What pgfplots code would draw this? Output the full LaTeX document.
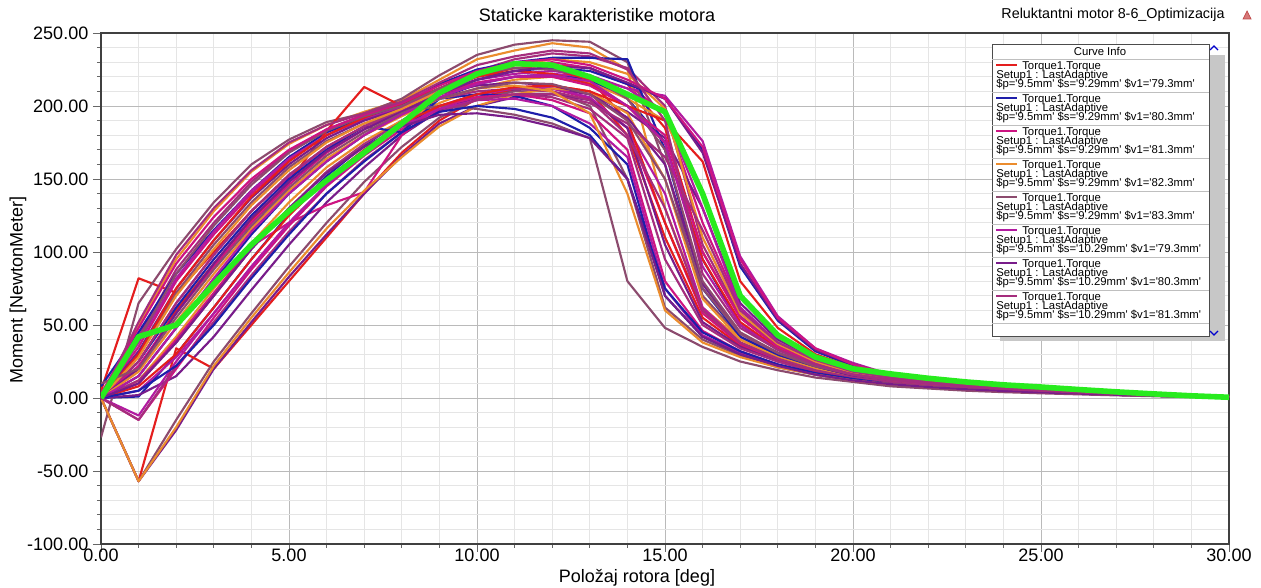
\documentclass[border=0pt]{standalone}
\usepackage{pgfplots}
\pgfplotsset{compat=1.18}
\usepackage{fontspec}
\setmainfont{Liberation Sans}

\definecolor{cR}{RGB}{228,30,30}
\definecolor{cB}{RGB}{30,30,170}
\definecolor{cM}{RGB}{205,20,130}
\definecolor{cO}{RGB}{235,140,45}
\definecolor{cV}{RGB}{140,75,110}
\definecolor{cP}{RGB}{178,26,160}
\definecolor{cQ}{RGB}{120,28,138}
\definecolor{cL}{RGB}{165,45,125}
\definecolor{cG}{RGB}{40,235,30}

\newcommand{\lgfont}{\fontsize{8.5}{9}\selectfont}
\newcommand{\sq}{\textquotesingle}

\begin{document}
\begin{tikzpicture}
\begin{axis}[
  scale only axis, width=846pt, height=383.25pt,
  xmin=0, xmax=30, ymin=-100, ymax=250,
  xtick={0,5,...,30},
  xticklabels={0.00,5.00,10.00,15.00,20.00,25.00,30.00},
  ytick={-100,-50,...,250},
  yticklabels={-100.00,-50.00,0.00,50.00,100.00,150.00,200.00,250.00},
  minor x tick num=4, minor y tick num=4,
  grid=both,
  major grid style={draw=black!27, line width=0.6pt},
  minor grid style={draw=black!10, line width=0.6pt},
  tick pos=left, tick align=outside,
  major tick length=6pt, minor tick length=3pt,
  tick style={draw=black!60, line width=0.6pt},
  axis line style={draw=black!75, line width=1pt},
  ticklabel style={font=\fontsize{13.5}{15}\selectfont},
  xticklabel style={yshift=6pt},
  every axis plot/.append style={line width=1.6pt, line join=round},
]
\coordinate (tl) at (rel axis cs:0,1);
% round 1
\addplot[cR] coordinates {(0,5)(1,82)(2,72)(3,100)(4,128)(5,152)(6,172)(7,186)(8,198)(9,210)(10,220)(11,226)(12,228)(13,226)(14,215)(15,185)(16,100)(17,55)(18,35)(19,24)(20,17)(21,12.5)(22,9.8)(23,7.8)(24,6.2)(25,4.9)(26,3.8)(27,2.8)(28,2)(29,1.3)(30,0.7)};
\addplot[cB] coordinates {(0,0)(1,1)(2,30)(3,62)(4,95)(5,126)(6,152)(7,173)(8,190)(9,205)(10,215)(11,220)(12,222)(13,218)(14,205)(15,175)(16,95)(17,50)(18,33)(19,23)(20,16)(21,12.5)(22,9.8)(23,7.8)(24,6.2)(25,4.9)(26,3.8)(27,2.8)(28,2)(29,1.3)(30,0.7)};
\addplot[cM] coordinates {(0,0)(1,35)(2,80)(3,112)(4,140)(5,163)(6,180)(7,192)(8,200)(9,212)(10,222)(11,228)(12,230)(13,226)(14,215)(15,195)(16,120)(17,62)(18,38)(19,26)(20,18)(21,14)(22,11)(23,8.8)(24,7)(25,5.5)(26,4.3)(27,3.2)(28,2.3)(29,1.5)(30,0.8)};
\addplot[cO] coordinates {(0,0)(1,50)(2,95)(3,128)(4,155)(5,174)(6,187)(7,196)(8,204)(9,218)(10,232)(11,238)(12,243)(13,240)(14,225)(15,130)(16,62)(17,40)(18,29)(19,21)(20,15)(21,11)(22,8.5)(23,6.8)(24,5.4)(25,4.3)(26,3.3)(27,2.5)(28,1.8)(29,1.1)(30,0.6)};
\addplot[cV] coordinates {(0,-27)(1,65)(2,102)(3,134)(4,160)(5,177)(6,189)(7,195)(8,205)(9,221)(10,235)(11,242)(12,245)(13,244)(14,230)(15,160)(16,70)(17,42)(18,30)(19,21)(20,15)(21,11)(22,8.5)(23,6.8)(24,5.4)(25,4.3)(26,3.3)(27,2.5)(28,1.8)(29,1.1)(30,0.6)};
\addplot[cP] coordinates {(0,0)(1,25)(2,65)(3,98)(4,128)(5,152)(6,172)(7,186)(8,197)(9,208)(10,216)(11,220)(12,222)(13,220)(14,212)(15,207)(16,176)(17,97)(18,56)(19,34)(20,24)(21,16)(22,12.5)(23,10)(24,8)(25,6.3)(26,4.9)(27,3.6)(28,2.6)(29,1.7)(30,0.9)};
\addplot[cQ] coordinates {(0,0)(1,2)(2,15)(3,42)(4,74)(5,105)(6,134)(7,158)(8,180)(9,197)(10,206)(11,211)(12,212)(13,208)(14,196)(15,178)(16,130)(17,65)(18,40)(19,27)(20,18)(21,14)(22,11)(23,8.8)(24,7)(25,5.5)(26,4.3)(27,3.2)(28,2.3)(29,1.5)(30,0.8)};
\addplot[cL] coordinates {(0,0)(1,42)(2,88)(3,120)(4,148)(5,169)(6,184)(7,194)(8,201)(9,212)(10,224)(11,232)(12,236)(13,234)(14,226)(15,200)(16,105)(17,56)(18,36)(19,25)(20,17)(21,12.5)(22,9.8)(23,7.8)(24,6.2)(25,4.9)(26,3.8)(27,2.8)(28,2)(29,1.3)(30,0.7)};
% round 2
\addplot[cR] coordinates {(0,0)(1,-57)(2,34)(3,20)(4,50)(5,80)(6,110)(7,140)(8,168)(9,190)(10,205)(11,212)(12,214)(13,210)(14,180)(15,110)(16,55)(17,36)(18,26)(19,19)(20,14)(21,11)(22,8.5)(23,6.8)(24,5.4)(25,4.3)(26,3.3)(27,2.5)(28,1.8)(29,1.1)(30,0.6)};
\addplot[cB] coordinates {(0,8)(1,45)(2,85)(3,115)(4,142)(5,165)(6,182)(7,192)(8,200)(9,215)(10,225)(11,230)(12,233)(13,233)(14,232)(15,170)(16,75)(17,42)(18,29)(19,20)(20,15)(21,11)(22,8.5)(23,6.8)(24,5.4)(25,4.3)(26,3.3)(27,2.5)(28,1.8)(29,1.1)(30,0.6)};
\addplot[cM] coordinates {(0,0)(1,-15)(2,20)(3,55)(4,88)(5,118)(6,145)(7,166)(8,184)(9,198)(10,208)(11,212)(12,212)(13,205)(14,185)(15,120)(16,58)(17,37)(18,26)(19,19)(20,14)(21,11)(22,8.5)(23,6.8)(24,5.4)(25,4.3)(26,3.3)(27,2.5)(28,1.8)(29,1.1)(30,0.6)};
\addplot[cO] coordinates {(0,0)(1,12)(2,42)(3,75)(4,106)(5,134)(6,158)(7,176)(8,190)(9,202)(10,212)(11,218)(12,220)(13,216)(14,205)(15,190)(16,140)(17,70)(18,42)(19,28)(20,19)(21,14)(22,11)(23,8.8)(24,7)(25,5.5)(26,4.3)(27,3.2)(28,2.3)(29,1.5)(30,0.8)};
\addplot[cV] coordinates {(0,0)(1,-57)(2,-15)(3,25)(4,58)(5,90)(6,120)(7,148)(8,172)(9,192)(10,205)(11,210)(12,210)(13,200)(14,150)(15,62)(16,40)(17,29)(18,21)(19,16)(20,12)(21,9.5)(22,7.5)(23,6)(24,4.8)(25,3.8)(26,3)(27,2.2)(28,1.5)(29,1)(30,0.5)};
\addplot[cP] coordinates {(0,0)(1,5)(2,28)(3,58)(4,90)(5,120)(6,146)(7,168)(8,186)(9,200)(10,208)(11,212)(12,212)(13,206)(14,185)(15,140)(16,62)(17,38)(18,27)(19,19)(20,14)(21,11)(22,8.5)(23,6.8)(24,5.4)(25,4.3)(26,3.3)(27,2.5)(28,1.8)(29,1.1)(30,0.6)};
\addplot[cQ] coordinates {(0,0)(1,-57)(2,-22)(3,20)(4,52)(5,83)(6,112)(7,140)(8,166)(9,188)(10,200)(11,206)(12,208)(13,204)(14,185)(15,105)(16,52)(17,35)(18,25)(19,18)(20,13)(21,9.5)(22,7.5)(23,6)(24,4.8)(25,3.8)(26,3)(27,2.2)(28,1.5)(29,1)(30,0.5)};
\addplot[cL] coordinates {(0,0)(1,12)(2,38)(3,70)(4,102)(5,130)(6,155)(7,174)(8,189)(9,200)(10,206)(11,208)(12,206)(13,198)(14,178)(15,95)(16,50)(17,34)(18,25)(19,18)(20,13)(21,9.5)(22,7.5)(23,6)(24,4.8)(25,3.8)(26,3)(27,2.2)(28,1.5)(29,1)(30,0.5)};
% round 3
\addplot[cR] coordinates {(0,0)(1,20)(2,60)(3,92)(4,122)(5,148)(6,183)(7,213)(8,200)(9,212)(10,222)(11,226)(12,225)(13,218)(14,190)(15,120)(16,60)(17,38)(18,27)(19,19)(20,14)(21,11)(22,8.5)(23,6.8)(24,5.4)(25,4.3)(26,3.3)(27,2.5)(28,1.8)(29,1.1)(30,0.6)};
\addplot[cB] coordinates {(0,0)(1,25)(2,62)(3,95)(4,125)(5,150)(6,170)(7,186)(8,182)(9,205)(10,208)(11,207)(12,200)(13,185)(14,160)(15,70)(16,42)(17,30)(18,22)(19,16)(20,12)(21,9.5)(22,7.5)(23,6)(24,4.8)(25,3.8)(26,3)(27,2.2)(28,1.5)(29,1)(30,0.5)};
\addplot[cM] coordinates {(0,0)(1,10)(2,40)(3,72)(4,104)(5,120)(6,132)(7,141)(8,180)(9,200)(10,206)(11,208)(12,204)(13,195)(14,170)(15,80)(16,46)(17,32)(18,23)(19,17)(20,12)(21,9.5)(22,7.5)(23,6)(24,4.8)(25,3.8)(26,3)(27,2.2)(28,1.5)(29,1)(30,0.5)};
\addplot[cO] coordinates {(0,0)(1,-57)(2,-20)(3,22)(4,55)(5,86)(6,116)(7,142)(8,165)(9,186)(10,200)(11,208)(12,212)(13,210)(14,195)(15,150)(16,68)(17,40)(18,28)(19,20)(20,14)(21,11)(22,8.5)(23,6.8)(24,5.4)(25,4.3)(26,3.3)(27,2.5)(28,1.8)(29,1.1)(30,0.6)};
\addplot[cV] coordinates {(0,0)(1,30)(2,72)(3,105)(4,134)(5,158)(6,176)(7,188)(8,196)(9,200)(10,198)(11,194)(12,188)(13,178)(14,80)(15,48)(16,35)(17,25)(18,19)(19,14)(20,11)(21,8)(22,6.5)(23,5)(24,4)(25,3.2)(26,2.5)(27,1.8)(28,1.2)(29,0.8)(30,0.4)};
\addplot[cP] coordinates {(0,0)(1,38)(2,82)(3,114)(4,142)(5,164)(6,180)(7,191)(8,199)(9,210)(10,218)(11,222)(12,224)(13,221)(14,212)(15,195)(16,130)(17,62)(18,38)(19,26)(20,18)(21,14)(22,11)(23,8.8)(24,7)(25,5.5)(26,4.3)(27,3.2)(28,2.3)(29,1.5)(30,0.8)};
\addplot[cQ] coordinates {(0,0)(1,32)(2,75)(3,108)(4,137)(5,160)(6,178)(7,190)(8,198)(9,208)(10,214)(11,216)(12,214)(13,208)(14,192)(15,160)(16,78)(17,44)(18,31)(19,22)(20,15)(21,11)(22,8.5)(23,6.8)(24,5.4)(25,4.3)(26,3.3)(27,2.5)(28,1.8)(29,1.1)(30,0.6)};
\addplot[cL] coordinates {(0,0)(1,25)(2,65)(3,98)(4,128)(5,153)(6,172)(7,186)(8,196)(9,205)(10,210)(11,212)(12,210)(13,204)(14,180)(15,130)(16,60)(17,38)(18,27)(19,19)(20,14)(21,11)(22,8.5)(23,6.8)(24,5.4)(25,4.3)(26,3.3)(27,2.5)(28,1.8)(29,1.1)(30,0.6)};
% round 4
\addplot[cR] coordinates {(0,0)(1,30)(2,75)(3,108)(4,138)(5,162)(6,180)(7,192)(8,202)(9,212)(10,220)(11,224)(12,222)(13,215)(14,200)(15,175)(16,95)(17,52)(18,34)(19,24)(20,17)(21,12.5)(22,9.8)(23,7.8)(24,6.2)(25,4.9)(26,3.8)(27,2.8)(28,2)(29,1.3)(30,0.7)};
\addplot[cB] coordinates {(0,0)(1,15)(2,48)(3,80)(4,112)(5,140)(6,162)(7,180)(8,195)(9,208)(10,218)(11,224)(12,226)(13,224)(14,215)(15,205)(16,170)(17,90)(18,53)(19,32)(20,22)(21,16)(22,12.5)(23,10)(24,8)(25,6.3)(26,4.9)(27,3.6)(28,2.6)(29,1.7)(30,0.9)};
\addplot[cM] coordinates {(0,0)(1,22)(2,58)(3,90)(4,120)(5,146)(6,168)(7,184)(8,196)(9,208)(10,216)(11,220)(12,220)(13,214)(14,200)(15,180)(16,100)(17,55)(18,35)(19,24)(20,17)(21,12.5)(22,9.8)(23,7.8)(24,6.2)(25,4.9)(26,3.8)(27,2.8)(28,2)(29,1.3)(30,0.7)};
\addplot[cO] coordinates {(0,0)(1,28)(2,70)(3,102)(4,132)(5,156)(6,175)(7,188)(8,198)(9,210)(10,222)(11,228)(12,232)(13,230)(14,222)(15,198)(16,110)(17,58)(18,37)(19,25)(20,17)(21,12.5)(22,9.8)(23,7.8)(24,6.2)(25,4.9)(26,3.8)(27,2.8)(28,2)(29,1.3)(30,0.7)};
\addplot[cV] coordinates {(0,0)(1,40)(2,85)(3,118)(4,146)(5,168)(6,183)(7,193)(8,200)(9,212)(10,222)(11,226)(12,225)(13,220)(14,205)(15,170)(16,80)(17,45)(18,31)(19,22)(20,16)(21,12.5)(22,9.8)(23,7.8)(24,6.2)(25,4.9)(26,3.8)(27,2.8)(28,2)(29,1.3)(30,0.7)};
\addplot[cP] coordinates {(0,0)(1,-12)(2,25)(3,58)(4,90)(5,120)(6,146)(7,168)(8,186)(9,198)(10,204)(11,205)(12,200)(13,188)(14,165)(15,75)(16,43)(17,31)(18,22)(19,16)(20,12)(21,9.5)(22,7.5)(23,6)(24,4.8)(25,3.8)(26,3)(27,2.2)(28,1.5)(29,1)(30,0.5)};
\addplot[cQ] coordinates {(0,0)(1,20)(2,58)(3,92)(4,123)(5,148)(6,169)(7,184)(8,196)(9,208)(10,218)(11,224)(12,227)(13,226)(14,216)(15,205)(16,168)(17,92)(18,54)(19,33)(20,23)(21,16)(22,12.5)(23,10)(24,8)(25,6.3)(26,4.9)(27,3.6)(28,2.6)(29,1.7)(30,0.9)};
\addplot[cL] coordinates {(0,0)(1,-15)(2,22)(3,52)(4,84)(5,114)(6,140)(7,163)(8,182)(9,196)(10,204)(11,208)(12,208)(13,202)(14,188)(15,165)(16,115)(17,60)(18,38)(19,26)(20,18)(21,14)(22,11)(23,8.8)(24,7)(25,5.5)(26,4.3)(27,3.2)(28,2.3)(29,1.5)(30,0.8)};
% round 5
\addplot[cR] coordinates {(0,0)(1,8)(2,30)(3,62)(4,95)(5,125)(6,150)(7,170)(8,188)(9,200)(10,208)(11,213)(12,214)(13,210)(14,200)(15,190)(16,162)(17,80)(18,48)(19,30)(20,21)(21,16)(22,12.5)(23,10)(24,8)(25,6.3)(26,4.9)(27,3.6)(28,2.6)(29,1.7)(30,0.9)};
\addplot[cB] coordinates {(0,0)(1,5)(2,22)(3,50)(4,82)(5,112)(6,140)(7,162)(8,182)(9,196)(10,200)(11,198)(12,192)(13,180)(14,150)(15,75)(16,45)(17,32)(18,23)(19,17)(20,13)(21,9.5)(22,7.5)(23,6)(24,4.8)(25,3.8)(26,3)(27,2.2)(28,1.5)(29,1)(30,0.5)};
\addplot[cM] coordinates {(0,3)(1,48)(2,92)(3,124)(4,150)(5,170)(6,184)(7,194)(8,202)(9,214)(10,224)(11,230)(12,232)(13,228)(14,218)(15,205)(16,172)(17,95)(18,55)(19,34)(20,23)(21,16)(22,12.5)(23,10)(24,8)(25,6.3)(26,4.9)(27,3.6)(28,2.6)(29,1.7)(30,0.9)};
\addplot[cO] coordinates {(0,0)(1,18)(2,52)(3,85)(4,116)(5,142)(6,164)(7,180)(8,193)(9,205)(10,212)(11,214)(12,210)(13,195)(14,140)(15,60)(16,38)(17,28)(18,21)(19,16)(20,12)(21,9.5)(22,7.5)(23,6)(24,4.8)(25,3.8)(26,3)(27,2.2)(28,1.5)(29,1)(30,0.5)};
\addplot[cV] coordinates {(0,10)(1,20)(2,55)(3,88)(4,118)(5,144)(6,166)(7,182)(8,195)(9,205)(10,212)(11,216)(12,215)(13,208)(14,190)(15,150)(16,75)(17,44)(18,31)(19,22)(20,16)(21,12.5)(22,9.8)(23,7.8)(24,6.2)(25,4.9)(26,3.8)(27,2.8)(28,2)(29,1.3)(30,0.7)};
\addplot[cP] coordinates {(0,0)(1,15)(2,48)(3,82)(4,114)(5,140)(6,162)(7,180)(8,194)(9,206)(10,215)(11,220)(12,221)(13,217)(14,200)(15,175)(16,90)(17,50)(18,33)(19,23)(20,16)(21,12.5)(22,9.8)(23,7.8)(24,6.2)(25,4.9)(26,3.8)(27,2.8)(28,2)(29,1.3)(30,0.7)};
\addplot[cQ] coordinates {(0,0)(1,10)(2,38)(3,70)(4,102)(5,130)(6,154)(7,172)(8,186)(9,194)(10,195)(11,192)(12,186)(13,178)(14,150)(15,70)(16,42)(17,30)(18,22)(19,16)(20,12)(21,9.5)(22,7.5)(23,6)(24,4.8)(25,3.8)(26,3)(27,2.2)(28,1.5)(29,1)(30,0.5)};
\addplot[cL] coordinates {(0,0)(1,52)(2,98)(3,130)(4,156)(5,175)(6,187)(7,195)(8,203)(9,216)(10,228)(11,234)(12,238)(13,236)(14,225)(15,190)(16,85)(17,48)(18,33)(19,23)(20,16)(21,12.5)(22,9.8)(23,7.8)(24,6.2)(25,4.9)(26,3.8)(27,2.8)(28,2)(29,1.3)(30,0.7)};
% highlighted curve
\addplot[cG, line width=4.2pt] coordinates {(0,0)(1,42)(2,50)(3,78)(4,105)(5,128)(6,149)(7,168)(8,188)(9,209)(10,222)(11,229)(12,228)(13,220)(14,208)(15,196)(16,140)(17,70)(18,43)(19,28)(20,20)(21,16.5)(22,13.5)(23,11)(24,9)(25,7.5)(26,5.8)(27,4.2)(28,2.8)(29,1.5)(30,0.5)};
\end{axis}

% annotations in image pixel coordinates (origin top left of the picture)
\begin{scope}[shift={(tl)}, x=0.75pt, y=-0.75pt]
\begin{scope}[shift={(-101,-33)}]
  \node[font=\fontsize{13.5}{15}\selectfont] at (597,15) {Staticke karakteristike motora};
  \node[font=\fontsize{10.75}{12}\selectfont] at (1113,15) {Reluktantni motor 8-6\_Optimizacija};
  \filldraw[draw={rgb,255:red,190;green,70;blue,70}, fill={rgb,255:red,215;green,120;blue,120}, line width=0.5pt]
    (1243,19) -- (1247,11) -- (1251,19) -- cycle;
  \node[font=\fontsize{13.5}{15}\selectfont] at (637,578) {Položaj rotora [deg]};
  \node[font=\fontsize{13.5}{15}\selectfont, rotate=90] at (18,290) {Moment [NewtonMeter]};
  % legend panel
  \fill[black!22] (1000,55) rectangle (1225,341);
  \filldraw[fill=white, draw=black!70, line width=0.6pt] (992,44) rectangle (1209,336);
  \node[font=\lgfont, anchor=base] at (1100,55.5) {Curve Info};
  \draw[black!25, line width=0.6pt] (992,59) -- (1209,59);
  \foreach \c/\s/\v [count=\i from 0] in {cR/9.29/79.3, cB/9.29/80.3, cM/9.29/81.3, cO/9.29/82.3, cV/9.29/83.3, cP/10.29/79.3, cQ/10.29/80.3, cL/10.29/81.3} {
    \pgfmathsetmacro{\T}{59+33*\i}
    \draw[\c, line width=1.4pt] (996,\T+6) -- (1017,\T+6);
    \node[font=\lgfont, anchor=base west, inner sep=0pt] at (1022,\T+10.3) {Torque1.Torque};
    \node[font=\lgfont, anchor=base west, inner sep=0pt] at (996,\T+19.7) {Setup1 : LastAdaptive};
    \node[font=\lgfont, anchor=base west, inner sep=0pt] at (996,\T+28.3)
      {\$p=\sq9.5mm\sq{} \$s=\sq\s mm\sq{} \$v1=\sq\v mm\sq};
    \draw[black!25, line width=0.6pt] (992,\T+33) -- (1209,\T+33);
  }
  \draw[blue!80!black, line width=1pt] (1210,50) -- (1214,46) -- (1218,50);
  \draw[blue!80!black, line width=1pt] (1210,331) -- (1214,335) -- (1218,331);
  \pgfresetboundingbox
  \path[use as bounding box] (0,0) rectangle (1261,588);
\end{scope}
\end{scope}
\end{tikzpicture}
\end{document}
